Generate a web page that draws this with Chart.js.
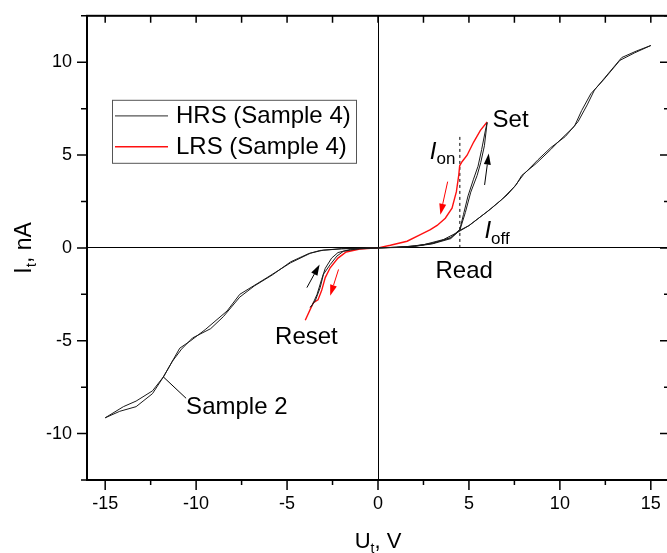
<!DOCTYPE html>
<html>
<head>
<meta charset="utf-8">
<script src="https://cdn.jsdelivr.net/npm/chart.js"></script>
<style>
  html, body { margin: 0; padding: 0; background: #fff; overflow: hidden; }
  #wrap { width: 669px; height: 553px; }
</style>
</head>
<body>
<div id="wrap"><canvas id="ivChart"></canvas></div>
<script>
// Sample 2: up to +15 V, back, down to -15 V, back
const s2U = [0, 1, 2, 3, 4, 4.5, 5.0, 6.2, 7.1, 7.6, 7.9, 8.7, 9.5, 9.9, 10.8, 11.2, 11.7, 12.4, 13.3, 14.1, 15,
  14.2, 13.4, 12.5, 11.9, 11.5, 11.0, 10.3, 9.5, 8.8, 8.0, 7.5, 6.8, 6.0, 5.0, 4.4, 3.6, 2.5, 1.5, 0,
  -1, -2, -3.2, -3.7, -4.8, -6.1, -7.6, -8.3, -9.5, -10.3, -10.9, -11.8, -12.4, -13.3, -14, -15,
  -14.2, -13.3, -12.4, -11.8, -11.3, -10.8, -10.2, -9.2, -8.5, -7.6, -6.8, -5.8, -4.8, -3.8, -3.0, -2, 0];
const s2I = [0, 0.03, 0.1, 0.25, 0.55, 0.95, 1.2, 2.1, 2.85, 3.4, 3.9, 4.55, 5.3, 5.7, 6.55, 7.4, 8.3, 9.05, 10.1, 10.5, 10.9,
  10.6, 10.25, 9.2, 8.5, 7.7, 6.8, 6.0, 5.4, 4.75, 3.95, 3.3, 2.6, 1.95, 1.2, 0.85, 0.45, 0.17, 0.06, 0,
  -0.02, -0.05, -0.14, -0.28, -0.8, -1.6, -2.5, -3.4, -4.4, -5.0, -5.4, -6.95, -7.7, -8.25, -8.55, -9.15,
  -8.8, -8.55, -7.85, -6.95, -6.1, -5.45, -4.85, -4.35, -3.7, -2.65, -2.05, -1.45, -0.75, -0.3, -0.12, -0.04, 0];

// Sample 4, high resistance state
const hrsU = [0, 1, 2, 3, 4, 4.5, 4.8, 5.1, 5.45, 5.65, 5.85, 6.0,
  5.9, 5.7, 5.5, 5.25, 4.95, 4.7, 4.5, 4.0, 3, 2, 1, 0,
  -1, -1.9, -2.26, -2.63, -3.0, -3.18, -3.45, -3.72,
  -3.6, -3.35, -3.1, -2.9, -2.55, -2.2, -1.5, 0];
const hrsI = [0, 0.02, 0.08, 0.22, 0.5, 0.95, 1.9, 3.0, 3.9, 4.6, 5.5, 6.75,
  6.3, 5.3, 4.4, 3.7, 2.8, 1.8, 1.0, 0.55, 0.24, 0.09, 0.03, 0,
  -0.03, -0.18, -0.44, -0.9, -1.42, -2.14, -2.85, -3.2,
  -3.05, -2.5, -1.7, -1.1, -0.55, -0.25, -0.08, 0];

// Sample 4, low resistance state
const lrsU = [6.0, 5.63, 5.26, 4.9, 4.62, 4.49, 4.44, 4.31, 4.07, 3.7, 3.25, 2.88, 2.33, 1.6, 0.68, 0,
  -1.0, -1.75, -2.2, -2.63, -2.9, -3.1, -3.3, -3.55, -3.72, -4.0];
const lrsI = [6.78, 6.33, 5.7, 4.99, 4.64, 4.42, 3.92, 3.03, 2.14, 1.6, 1.21, 0.98, 0.72, 0.36, 0.14, 0,
  -0.06, -0.22, -0.55, -1.07, -1.6, -2.3, -2.8, -2.95, -3.3, -3.9];

// read voltage marker
const readU = [4.5, 4.5];
const readI = [0, 6.06];

const xTickLabels = [-15, -10, -5, 0, 5, 10, 15];
const yTickLabels = [-10, -5, 0, 5, 10];

const FONT = "'Liberation Sans', Arial, sans-serif";

function pts(us, is) {
    return us.map((u, i) => ({ x: u, y: is[i] }));
}

function drawArrow(ctx, x1, y1, x2, y2, color) {
    const ang = Math.atan2(y2 - y1, x2 - x1);
    const head = 11, half = 3.5;
    const bx = x2 - head * Math.cos(ang), by = y2 - head * Math.sin(ang);
    ctx.strokeStyle = color;
    ctx.fillStyle = color;
    ctx.lineWidth = 1;
    ctx.beginPath();
    ctx.moveTo(x1, y1);
    ctx.lineTo(bx, by);
    ctx.stroke();
    ctx.beginPath();
    ctx.moveTo(x2, y2);
    ctx.lineTo(bx + half * Math.sin(ang), by - half * Math.cos(ang));
    ctx.lineTo(bx - half * Math.sin(ang), by + half * Math.cos(ang));
    ctx.closePath();
    ctx.fill();
}

// text pieces drawn one after another, subscripts dropped
function subText(ctx, x, y, parts) {
    let cx = x;
    parts.forEach(p => {
        ctx.font = p.font;
        ctx.fillText(p.t, cx, y + (p.drop || 0));
        cx += ctx.measureText(p.t).width;
    });
    return cx - x;
}

function measure(ctx, parts) {
    let w = 0;
    parts.forEach(p => { ctx.font = p.font; w += ctx.measureText(p.t).width; });
    return w;
}

const decor = {
    id: 'decor',
    afterDraw(chart) {
        const { ctx, chartArea: a, scales: { x, y } } = chart;
        ctx.save();

        // frame
        ctx.strokeStyle = '#000';
        ctx.lineWidth = 2;
        ctx.strokeRect(a.left, a.top, a.right - a.left, a.bottom - a.top);

        // ticks, major and minor
        ctx.lineWidth = 1.5;
        ctx.beginPath();
        x.ticks.forEach(t => {
            const px = x.getPixelForValue(t.value);
            const major = xTickLabels.includes(t.value);
            ctx.moveTo(px, a.bottom);
            ctx.lineTo(px, a.bottom + (major ? 10 : 5));
            ctx.moveTo(px, a.top);
            ctx.lineTo(px, a.top + 7);
        });
        y.ticks.forEach(t => {
            const py = y.getPixelForValue(t.value);
            const major = yTickLabels.includes(t.value);
            ctx.moveTo(a.left, py);
            ctx.lineTo(a.left - (major ? 10 : 6), py);
            ctx.moveTo(a.right, py);
            ctx.lineTo(a.right - (major ? 9 : 5), py);
        });
        ctx.stroke();

        // arrows along the sweep direction
        const arrows = [
            [5.86, 3.39, 6.09, 5.08, '#000'],
            [3.83, 3.57, 3.43, 1.79, '#ff0000'],
            [-3.91, -2.14, -3.21, -0.89, '#000'],
            [-2.17, -1.16, -2.63, -2.58, '#ff0000']
        ];
        arrows.forEach(r => drawArrow(ctx, x.getPixelForValue(r[0]), y.getPixelForValue(r[1]),
            x.getPixelForValue(r[2]), y.getPixelForValue(r[3]), r[4]));

        // pointer to Sample 2
        ctx.strokeStyle = '#000';
        ctx.lineWidth = 1;
        ctx.beginPath();
        ctx.moveTo(x.getPixelForValue(-11.8), y.getPixelForValue(-6.95));
        ctx.lineTo(x.getPixelForValue(-10.55), y.getPixelForValue(-8.1));
        ctx.stroke();

        // labels
        ctx.fillStyle = '#000';
        ctx.textBaseline = 'alphabetic';
        ctx.textAlign = 'left';
        const notes = [['Set', 6.3, 6.5], ['Read', 3.16, -1.6], ['Reset', -5.66, -5.17], ['Sample 2', -10.55, -8.95]];
        ctx.font = '24px ' + FONT;
        notes.forEach(n => ctx.fillText(n[0], x.getPixelForValue(n[1]), y.getPixelForValue(n[2])));

        subText(ctx, x.getPixelForValue(2.85), y.getPixelForValue(4.81), [
            { t: 'I', font: 'italic 24px ' + FONT },
            { t: 'on', font: '17px ' + FONT, drop: 5 }
        ]);
        subText(ctx, x.getPixelForValue(5.85), y.getPixelForValue(0.53), [
            { t: 'I', font: 'italic 24px ' + FONT },
            { t: 'off', font: '17px ' + FONT, drop: 6 }
        ]);

        // legend box
        const lx = a.left + 25, ly = a.top + 84;
        ctx.strokeStyle = '#555';
        ctx.lineWidth = 1;
        ctx.strokeRect(lx + 0.5, ly + 0.5, 244, 63);
        ctx.font = '24px ' + FONT;
        ctx.textBaseline = 'middle';
        [chart.data.datasets[1], chart.data.datasets[2]].forEach((ds, i) => {
            const yy = ly + 16 + i * 31;
            ctx.strokeStyle = i === 0 ? '#555' : ds.borderColor;
            ctx.lineWidth = i === 0 ? 1.3 : 1.5;
            ctx.beginPath();
            ctx.moveTo(lx + 3, yy);
            ctx.lineTo(lx + 56, yy);
            ctx.stroke();
            ctx.fillStyle = '#000';
            ctx.fillText(ds.label, lx + 64, yy + 1);
        });

        // axis titles with subscripts
        ctx.textBaseline = 'alphabetic';
        const xt = [
            { t: 'U', font: '22px ' + FONT },
            { t: 't', font: '14px ' + FONT, drop: 5 },
            { t: ', V', font: '22px ' + FONT }
        ];
        const xw = measure(ctx, xt);
        subText(ctx, x.getPixelForValue(0) - xw / 2, 548, xt);

        const yt = [
            { t: 'I', font: '23px ' + FONT },
            { t: 't', font: '15px ' + FONT, drop: 5 },
            { t: ', nA', font: '23px ' + FONT }
        ];
        const yw = measure(ctx, yt);
        ctx.save();
        ctx.translate(31, (a.top + a.bottom) / 2);
        ctx.rotate(-Math.PI / 2);
        subText(ctx, -yw / 2, 0, yt);
        ctx.restore();

        ctx.restore();
    }
};

const zeroLine = ctx => (ctx.tick && ctx.tick.value === 0) ? '#000' : 'rgba(0,0,0,0)';

new Chart(document.getElementById('ivChart'), {
    type: 'scatter',
    data: {
        datasets: [
            { label: 'Sample 2', data: pts(s2U, s2I), borderColor: '#1a1a1a', borderWidth: 1, showLine: true, pointRadius: 0, tension: 0 },
            { label: 'HRS (Sample 4)', data: pts(hrsU, hrsI), borderColor: '#1a1a1a', borderWidth: 1, showLine: true, pointRadius: 0, tension: 0 },
            { label: 'LRS (Sample 4)', data: pts(lrsU, lrsI), borderColor: '#ff1010', borderWidth: 1.4, showLine: true, pointRadius: 0, tension: 0 },
            { label: 'Read', data: pts(readU, readI), borderColor: '#000', borderWidth: 1, borderDash: [3, 3], showLine: true, pointRadius: 0 }
        ]
    },
    options: {
        responsive: true,
        maintainAspectRatio: false,
        animation: false,
        devicePixelRatio: 1,
        layout: { padding: { top: 13, right: 0, bottom: 0, left: 0 } },
        plugins: { legend: { display: false }, tooltip: { enabled: false } },
        scales: {
            x: {
                type: 'linear', min: -16, max: 16,
                border: { display: false },
                grid: { drawOnChartArea: true, color: zeroLine, tickColor: 'rgba(0,0,0,0)', tickLength: 10, lineWidth: 1 },
                ticks: {
                    stepSize: 2.5, includeBounds: false, autoSkip: false, maxRotation: 0, padding: 3,
                    color: '#000', font: { family: FONT, size: 18 },
                    callback: v => xTickLabels.includes(v) ? String(v) : ''
                },
                afterFit: s => { s.height = 73; }
            },
            y: {
                type: 'linear', min: -12.5, max: 12.5,
                border: { display: false },
                grid: { drawOnChartArea: true, color: zeroLine, tickColor: 'rgba(0,0,0,0)', tickLength: 10, lineWidth: 1 },
                ticks: {
                    stepSize: 2.5, includeBounds: false, autoSkip: false, padding: 5,
                    color: '#000', font: { family: FONT, size: 18 },
                    callback: v => yTickLabels.includes(v) ? String(v) : ''
                },
                afterFit: s => { s.width = 87; }
            }
        }
    },
    plugins: [decor]
});
</script>
</body>
</html>
